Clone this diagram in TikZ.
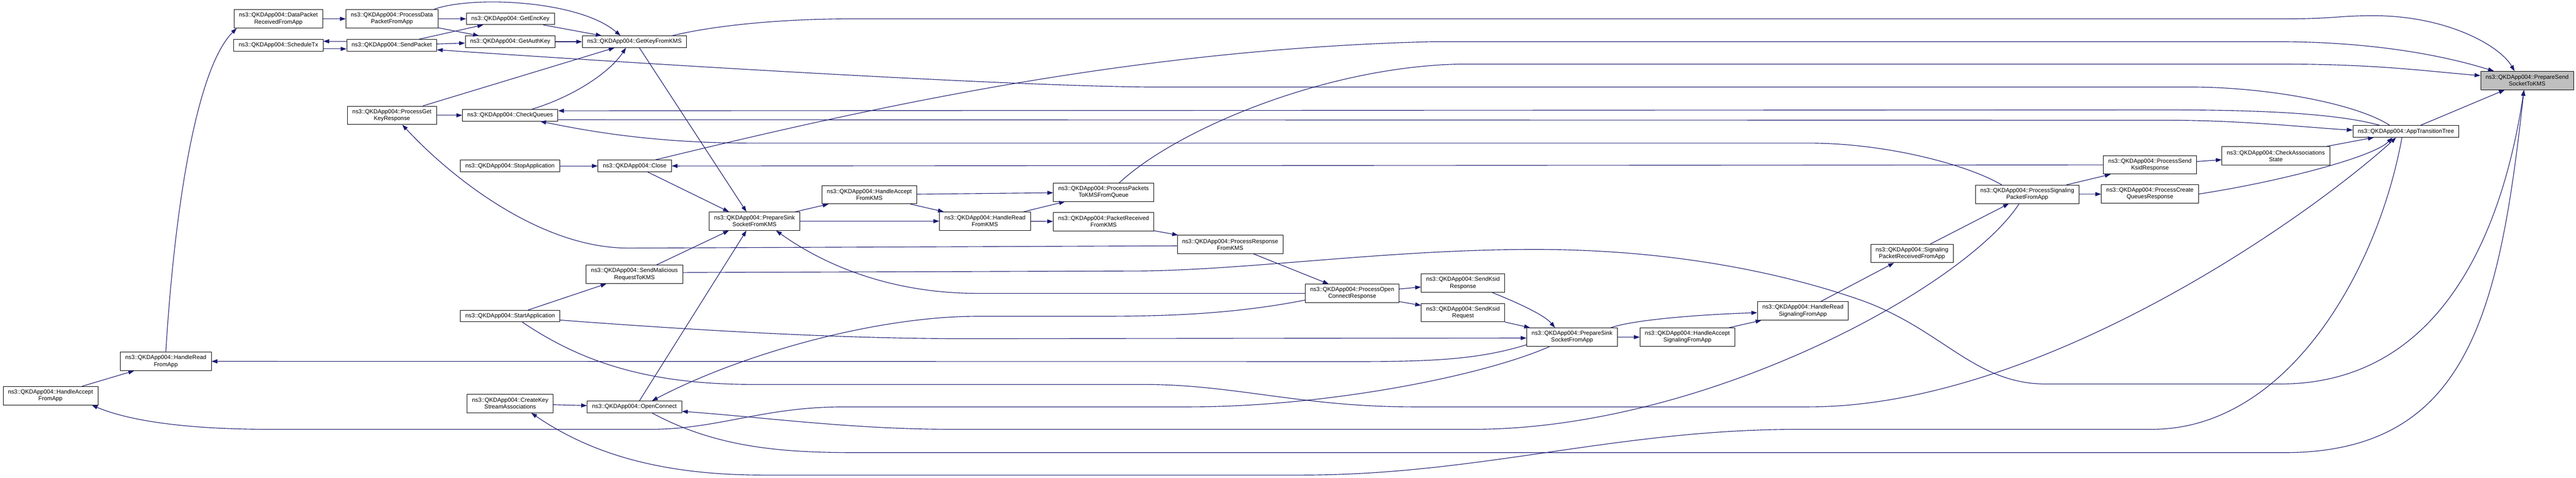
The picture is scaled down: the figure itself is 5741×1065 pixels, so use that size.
\documentclass[tikz,border=0pt]{standalone}
\usepackage{fontspec}
\setmainfont{Liberation Sans}
\usepackage{tikz}
\usetikzlibrary{arrows.meta}
\definecolor{edgeblue}{HTML}{191970}
\definecolor{rootgray}{HTML}{BFBFBF}
\tikzset{
  fnode/.style = {align=center, inner xsep=11pt, inner ysep=3pt, text centered,
    draw=black, fill=white, line width=1pt, font=\fontsize{13}{15}\selectfont},
  fn_one/.style = {fnode, minimum height=26pt},% one line
  fn_two/.style = {fnode, minimum height=41pt},% two lines
  fn_root/.style = {fn_two, fill=rootgray},% the function itself
  call/.style = {draw=edgeblue, line width=1.3pt}% call edge
}
\begin{document}
\begin{tikzpicture}[x=1pt,y=-1pt,->,>={Triangle[length=13pt,width=9pt]}]
  \useasboundingbox (0,0) rectangle (5741,1065);
  \node [fn_two] (hafa) at (112.5,882) {ns3::QKDApp004::HandleAccept\\FromApp};
  \node [fn_two] (hrfa) at (369.5,805.5) {ns3::QKDApp004::HandleRead\\FromApp};
  \node [fn_two] (dprfa) at (620.5,42) {ns3::QKDApp004::DataPacket\\ReceivedFromApp};
  \node [fn_one] (stx) at (620.5,101) {ns3::QKDApp004::ScheduleTx};
  \node [fn_two] (pdpfa) at (873.5,42) {ns3::QKDApp004::ProcessData\\PacketFromApp};
  \node [fn_one] (sp) at (873,101) {ns3::QKDApp004::SendPacket};
  \node [fn_two] (pgkr) at (873.5,257) {ns3::QKDApp004::ProcessGet\\KeyResponse};
  \node [fn_one] (gek) at (1137.5,42) {ns3::QKDApp004::GetEncKey};
  \node [fn_one] (gak) at (1137,93) {ns3::QKDApp004::GetAuthKey};
  \node [fn_one] (cq) at (1137,257) {ns3::QKDApp004::CheckQueues};
  \node [fn_one] (stopa) at (1136.5,370) {ns3::QKDApp004::StopApplication};
  \node [fn_one] (sa) at (1137,704.5) {ns3::QKDApp004::StartApplication};
  \node [fn_two] (cksa) at (1137,899.5) {ns3::QKDApp004::CreateKey\\StreamAssociations};
  \node [fn_one] (gkfk) at (1414,93) {ns3::QKDApp004::GetKeyFromKMS};
  \node [fn_one] (cl) at (1414.5,370) {ns3::QKDApp004::Close};
  \node [fn_two] (smr) at (1414,611.5) {ns3::QKDApp004::SendMalicious\\RequestToKMS};
  \node [fn_one] (oc) at (1414,907) {ns3::QKDApp004::OpenConnect};
  \node [fn_two] (pssfk) at (1681.5,493) {ns3::QKDApp004::PrepareSink\\SocketFromKMS};
  \node [fn_two] (hafk) at (1937.5,434) {ns3::QKDApp004::HandleAccept\\FromKMS};
  \node [fn_two] (hrfk) at (2195,493) {ns3::QKDApp004::HandleRead\\FromKMS};
  \node [fn_two] (pptk) at (2459.5,428.5) {ns3::QKDApp004::ProcessPackets\\ToKMSFromQueue};
  \node [fn_two] (prfk) at (2459.5,494) {ns3::QKDApp004::PacketReceived\\FromKMS};
  \node [fn_two] (presk) at (2741.5,545) {ns3::QKDApp004::ProcessResponse\\FromKMS};
  \node [fn_two] (pocr) at (3013.5,654) {ns3::QKDApp004::ProcessOpen\\ConnectResponse};
  \node [fn_two] (sksr) at (3260.5,631) {ns3::QKDApp004::SendKsid\\Response};
  \node [fn_two] (sksq) at (3260.5,697) {ns3::QKDApp004::SendKsid\\Request};
  \node [fn_two] (pssfa) at (3503.5,751.5) {ns3::QKDApp004::PrepareSink\\SocketFromApp};
  \node [fn_two] (hasfa) at (3760.5,751.5) {ns3::QKDApp004::HandleAccept\\SignalingFromApp};
  \node [fn_two] (hrsfa) at (4018,693) {ns3::QKDApp004::HandleRead\\SignalingFromApp};
  \node [fn_two] (sprfa) at (4261,565) {ns3::QKDApp004::Signaling\\PacketReceivedFromApp};
  \node [fn_two] (pspfa) at (4518,433) {ns3::QKDApp004::ProcessSignaling\\PacketFromApp};
  \node [fn_two] (psksr) at (4791.5,367.5) {ns3::QKDApp004::ProcessSend\\KsidResponse};
  \node [fn_two] (pcqr) at (4791.5,432.5) {ns3::QKDApp004::ProcessCreate\\QueuesResponse};
  \node [fn_two] (cas) at (5072,347.5) {ns3::QKDApp004::CheckAssociations\\State};
  \node [fn_one] (att) at (5362,293) {ns3::QKDApp004::AppTransitionTree};
  \node [fn_root] (root) at (5632,179.5) {ns3::QKDApp004::PrepareSend\\SocketToKMS};

  \draw[call] (dprfa) -- (pdpfa);
  \draw[call] (pdpfa) -- (gek);
  \draw[call] (pdpfa) -- (gak);
  \draw[call] ([xshift=93pt]pdpfa.north) .. controls (1050,-10) and (1290,0) .. ([xshift=-31pt]gkfk.north);
  \draw[call] (gek) -- (gkfk);
  \draw[call] (gak) -- (gkfk);
  \draw[call] ([yshift=9pt]sp.west) -- ([yshift=9pt]stx.east);
  \draw[call] ([yshift=-8pt]stx.east) -- ([yshift=-8pt]sp.west);
  \draw[call] (sp) -- (gek);
  \draw[call] (sp) -- (gak);
  \draw[call] (pgkr) -- (gkfk);
  \draw[call] (pgkr) -- (cq);
  \draw[call] ([xshift=48pt]cq.north) .. controls (1280,215) and (1360,160) .. ([xshift=-19pt]gkfk.south);
  \draw[call] (stopa) -- (cl);
  \draw[call] (hafa) -- (hrfa);
  \draw[call] (hrfa.north) .. controls (390,450) and (440,150) .. ([xshift=-93pt]dprfa.south);
  \draw[call] (sa) -- (smr);
  \draw[call] (cksa) -- (oc);
  % into the root
  \draw[call] ([xshift=84pt]gkfk.north) .. controls (1600,55) and (1750,42) .. (1900,42) -- (5095,42)
    .. controls (5200,42) and (5210,35) .. (5290,35) .. controls (5450,35) and (5570,100) .. ([xshift=-28pt]root.north);
  \draw[call] ([xshift=45pt]cl.north) .. controls (1900,250) and (2500,110) .. (3190,93) -- (5095,93)
    .. controls (5300,95) and (5450,125) .. ([xshift=-74pt]root.north);
  \draw[call] ([xshift=35pt]pptk.north) .. controls (2620,290) and (2950,150) .. (3250,143) -- (5095,143)
    .. controls (5300,143) and (5420,160) .. ([yshift=11pt]root.west);
  \draw[call] ([yshift=4pt]smr.east) -- (2550,604) .. controls (2800,600) and (3100,556) .. (3420,556)
    .. controls (3700,556) and (3950,600) .. (4150,670) .. controls (4330,735) and (4400,856) .. (4560,856)
    -- (5081,856) .. controls (5450,856) and (5580,500) .. ([xshift=-7pt]root.south);
  \draw[call] ([xshift=39pt]oc.south) .. controls (1600,1000) and (1750,1009) .. (1911,1009) -- (5090,1009)
    .. controls (5500,1009) and (5570,700) .. ([xshift=-7pt]root.south);
  \draw[call] (att) -- (root);
  % from AppTransitionTree
  \draw[call] ([xshift=-36pt]att.north) .. controls (5250,230) and (5050,194) .. (4882,194) -- (2553,194)
    .. controls (2200,190) and (1400,140) .. ([yshift=-10pt]sp.east);
  \draw[call] ([xshift=-58pt]att.north) .. controls (5200,250) and (5000,245) .. (4829,245) -- ([yshift=10pt]cq.east);
  \draw[call] ([yshift=-10pt]cq.east) -- (4829,268) .. controls (5000,268) and (5150,285) .. ([yshift=3pt]att.west);
  \draw[call] ([xshift=-9pt]att.south) .. controls (5300,600) and (5100,957) .. (4796,957) -- (4010,957)
    .. controls (3600,957) and (3300,1059) .. (2900,1059) -- (1700,1059) .. controls (1450,1059) and (1300,1000) .. ([xshift=47pt]cksa.south);
  \draw[call] ([xshift=-57pt]pspfa.north) .. controls (4380,365) and (4200,319) .. (4030,319) -- (1672,319)
    .. controls (1450,319) and (1300,290) .. ([xshift=67pt]cq.south);
  \draw[call] (psksr) -- (cl);
  % the KMS side
  \draw[call] ([xshift=11pt]gkfk.south) -- ([xshift=-18pt]pssfk.north);
  \draw[call] ([xshift=29pt]cl.south) -- ([xshift=-57pt]pssfk.north);
  \draw[call] ([xshift=49pt]smr.north) -- ([xshift=-57pt]pssfk.south);
  \draw[call] ([xshift=11pt]oc.north) -- ([xshift=-18pt]pssfk.south);
  \draw[call] (pocr.west) -- (2179,654) .. controls (2000,654) and (1850,600) .. ([xshift=48pt]pssfk.south);
  \draw[call] (pssfk) -- (hafk);
  \draw[call] (pssfk) -- (hrfk);
  \draw[call] (hafk) -- (hrfk);
  \draw[call] (hafk) -- (pptk);
  \draw[call] (hrfk) -- (pptk);
  \draw[call] (hrfk) -- (prfk);
  \draw[call] (prfk) -- (presk);
  \draw[call] (presk) -- (pocr);
  \draw[call] ([yshift=-3pt]presk.west) -- (1400,553) .. controls (1200,553) and (1000,390) .. ([xshift=23pt]pgkr.south);
  % the signaling side
  \draw[call] (pocr) -- (sksr);
  \draw[call] (pocr) -- (sksq);
  \draw[call] ([xshift=65pt]sksr.south) .. controls (3370,670) and (3440,700) .. ([xshift=-38pt]pssfa.north);
  \draw[call] (sksq) -- (pssfa);
  \draw[call] (pssfa) -- (hasfa);
  \draw[call] ([xshift=86pt]pssfa.north) .. controls (3650,710) and (3820,700) .. ([yshift=-4pt]hrsfa.west);
  \draw[call] (hasfa) -- (hrsfa);
  \draw[call] (hrsfa) -- (sprfa);
  \draw[call] (sprfa) -- (pspfa);
  \draw[call] (pspfa) -- (psksr);
  \draw[call] (pspfa) -- (pcqr);
  \draw[call] (psksr) -- (cas);
  \draw[call] (cas) -- (att);
  \draw[call] (pcqr.east) .. controls (5080,405) and (5290,350) .. ([xshift=-30pt]att.south);
  \draw[call] ([yshift=-9pt]sa.east) .. controls (1600,740) and (1900,755) .. (2150,755) -- ([yshift=-2pt]pssfa.west);
  \draw[call] ([xshift=27pt]sa.south) .. controls (1300,810) and (1450,857) .. (1680,857) -- (2550,857)
    .. controls (2750,857) and (2900,907) .. (3150,907) -- (4030,907) .. controls (4550,907) and (5150,480) .. ([xshift=-22pt]att.south);
  \draw[call] ([yshift=-15pt]pocr.west) .. controls (2750,700) and (2600,705) .. (2457,705) -- (2180,705)
    .. controls (1950,705) and (1650,790) .. ([xshift=39pt]oc.north);
  \draw[call] ([xshift=-18pt]pspfa.south) .. controls (4380,640) and (3800,957) .. (3283,957) -- (2120,957)
    .. controls (1900,957) and (1700,930) .. ([yshift=-10pt]oc.east);
  \draw[call] ([yshift=-17pt]pssfa.west) .. controls (3300,800) and (3200,806) .. (3030,806) -- (hrfa.east);
  \draw[call] ([xshift=-50pt]pssfa.south) .. controls (3300,840) and (2950,907) .. (2650,907) -- (1880,907)
    .. controls (1700,907) and (1600,957) .. (1450,957) -- (600,957) .. controls (400,957) and (280,935) .. ([xshift=92pt]hafa.south);
\end{tikzpicture}
\end{document}
